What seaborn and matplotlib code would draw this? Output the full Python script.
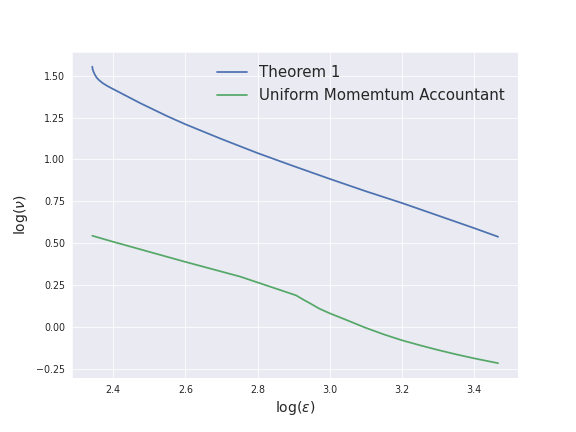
import numpy as np
import pandas as pd
import seaborn as sns
import matplotlib
matplotlib.use("Agg")
import matplotlib.pyplot as plt

# Theorem 1 curve
thm_eps = [2.342, 2.343, 2.345, 2.348, 2.351, 2.355, 2.362, 2.372, 2.385, 2.4,
           2.425, 2.45, 2.475, 2.5, 2.55, 2.6, 2.7, 2.8, 2.9, 3.0, 3.1, 3.2,
           3.3, 3.4, 3.467]
thm_nu = [1.554, 1.538, 1.526, 1.511, 1.499, 1.486, 1.471, 1.454, 1.437, 1.42,
          1.392, 1.364, 1.336, 1.31, 1.258, 1.21, 1.122, 1.038, 0.96, 0.884,
          0.81, 0.74, 0.665, 0.59, 0.538]

# Uniform Momemtum Accountant curve
uma_eps = [2.342, 2.4, 2.6, 2.752, 2.907, 2.925, 2.946, 2.971, 3.0, 3.05, 3.1,
           3.15, 3.2, 3.25, 3.3, 3.35, 3.4, 3.467]
uma_nu = [0.544, 0.508, 0.388, 0.30, 0.188, 0.165, 0.14, 0.109, 0.081, 0.038,
          -0.006, -0.045, -0.08, -0.11, -0.138, -0.164, -0.188, -0.217]

sns.set_style("darkgrid")

fig = plt.figure(figsize=(8, 6), dpi=72)
ax = fig.add_subplot(111)
fig.subplots_adjust(left=0.125, right=0.9, bottom=0.125, top=0.88)

sns.lineplot(x=thm_eps, y=thm_nu, ax=ax, color="#4C72B0", sort=False,
             linewidth=1.75, label="Theorem 1")
sns.lineplot(x=uma_eps, y=uma_nu, ax=ax, color="#55A868", sort=False,
             linewidth=1.75, label="Uniform Momemtum Accountant")

ax.set_xlabel(r"$\log(\epsilon)$", fontsize=14)
ax.set_ylabel(r"$\log(\nu)$", fontsize=14, labelpad=6)
ax.tick_params(labelsize=9.5)
ax.legend(loc="upper right", frameon=False, fontsize=15)

fig.savefig("out.png", dpi=72)
